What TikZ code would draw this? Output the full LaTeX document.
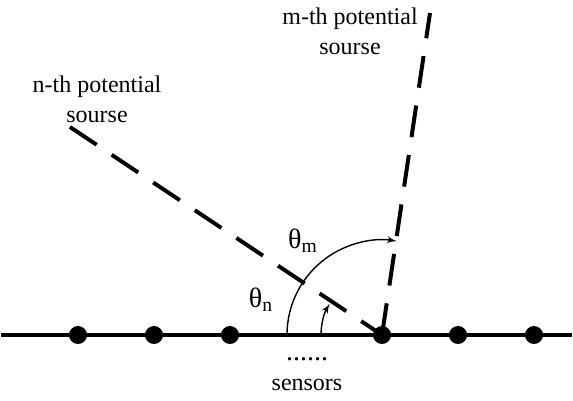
\documentclass[tikz,border=0pt]{standalone}
\usepackage{fontspec}
\setmainfont{Liberation Serif}
\usetikzlibrary{shapes,arrows,positioning}
\tikzstyle{sensor} = [circle, fill, inner sep=0pt, minimum size=9pt]
\tikzstyle{sourceray} = [draw, line width=2pt, dash pattern=on 16pt off 9pt]
\tikzstyle{anglearc} = [draw, line width=0.7pt, -latex']
\tikzstyle{note} = [align=center, inner sep=0pt, font=\fontsize{12}{15}\selectfont]
\tikzstyle{bignote} = [note, font=\fontsize{14}{16}\selectfont]

\begin{document}
\begin{tikzpicture}[x=0.5pt, y=0.5pt, node distance=38pt]
  \useasboundingbox (0,0) rectangle (573,401);
  % Place nodes
  \coordinate (lend) at (1,66);
  \coordinate (rend) at (572,66);
  \node [sensor] (s1) at (78,66) {};
  \node [sensor, right of=s1] (s2) {};
  \node [sensor, right of=s2] (s3) {};
  \node [sensor, right of=s3, node distance=76pt] (s4) {};
  \node [sensor, right of=s4] (s5) {};
  \node [sensor, right of=s5] (s6) {};
  \coordinate (nsrc) at (70,274);
  \coordinate (msrc) at (430,388);
  \node [note] (nlabel) at (97,302) {n-th potential\\sourse};
  \node [note] (mlabel) at (350,370) {m-th potential\\sourse};
  \node [bignote] (thm) at (303,160) {θ\textsubscript{m}};
  \node [bignote] (thn) at (261,101) {θ\textsubscript{n}};
  \node [bignote] (dots) at (307,42) {......};
  \node [note, below of=dots, node distance=13pt] (sens) {sensors};
  % Draw edges
  \draw [line width=2pt] (lend) -- (rend);
  \path [sourceray] (nsrc) -- (s4.center);
  \path [sourceray] (s4.center) -- (msrc);
  \path [anglearc] ([shift={(180:95)}]s4.center) arc [start angle=180, end angle=81, radius=95];
  \path [anglearc] ([shift={(180:61)}]s4.center) arc [start angle=180, end angle=149, radius=61];
\end{tikzpicture}
\end{document}
